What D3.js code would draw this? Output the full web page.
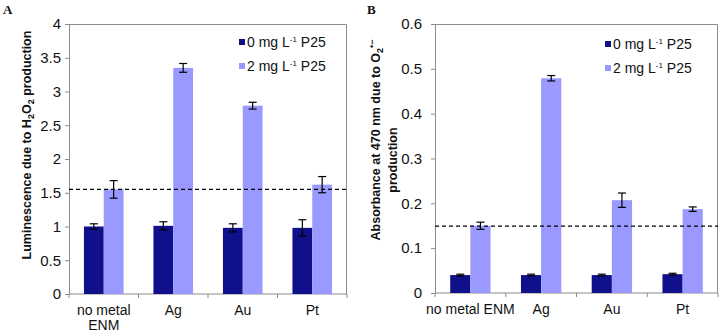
<!DOCTYPE html>
<html>
<head>
<meta charset="utf-8">
<script src="https://cdn.jsdelivr.net/npm/d3@7"></script>
<style>
  body { margin: 0; background: #fff; }
  svg { display: block; font-family: "Liberation Sans", Arial, sans-serif; }
</style>
</head>
<body>
<svg id="chart" width="721" height="333"></svg>
<script>
// categories and series
var categories = ['no metal ENM', 'Ag', 'Au', 'Pt'];
var seriesNames = ['0 mg L-1 P25', '2 mg L-1 P25'];

// panel A: luminescence (H2O2)
var lumDark = [1.00, 1.01, 0.98, 0.98];
var lumDarkErr = [0.04, 0.06, 0.06, 0.12];
var lumLight = [1.55, 3.35, 2.79, 1.62];
var lumLightErr = [0.13, 0.065, 0.05, 0.12];
var lumRef = 1.55;
var lumTicks = [0, 0.5, 1, 1.5, 2, 2.5, 3, 3.5, 4];

// panel B: absorbance (O2 radical)
var absDark = [0.040, 0.040, 0.040, 0.042];
var absDarkErr = [0.002, 0.002, 0.002, 0.002];
var absLight = [0.150, 0.479, 0.207, 0.187];
var absLightErr = [0.008, 0.006, 0.016, 0.005];
var absRef = 0.149;
var absTicks = [0, 0.1, 0.2, 0.3, 0.4, 0.5, 0.6];

var colors = ['#10108a', '#9999ff'];
var axisColor = '#8c8c8c';

var svg = d3.select('#chart');

function drawPanel(o) {
    var g = svg.append('g').attr('transform', 'translate(' + o.left + ',' + o.top + ')'),
        w = o.width,
        h = o.height;

    var x0 = d3.scaleBand().domain(categories).range([0, w]).paddingInner(0.43).paddingOuter(0.215);
    var x1 = d3.scaleBand().domain([0, 1]).range([0, x0.bandwidth()]);
    var y = d3.scaleLinear().domain([0, o.max]).range([h, 0]);

    // frame (top + right)
    g.append('path')
        .attr('d', 'M0,0.5H' + (w - 0.5) + 'V' + h)
        .attr('fill', 'none').attr('stroke', axisColor);

    // y axis
    var yAxis = g.append('g').call(d3.axisLeft(y).tickValues(o.ticks).tickSize(4).tickPadding(o.tickPad)
        .tickFormat(function (d) { return String(+d.toFixed(2)); }));
    yAxis.selectAll('path, line').attr('stroke', axisColor);
    yAxis.selectAll('text').attr('font-size', 15).attr('fill', '#111')
        .attr('font-family', '"Liberation Sans", Arial, sans-serif');

    // x axis: ticks on band boundaries
    var xAxis = g.append('g').attr('transform', 'translate(0,' + h + ')');
    xAxis.append('line').attr('x1', 0).attr('x2', w).attr('stroke', axisColor);
    var bounds = categories.map(function (c) { return x0(c) - x0.step() * x0.paddingInner() / 2; });
    bounds.push(w);
    xAxis.selectAll('line.tk').data(bounds).enter().append('line').attr('class', 'tk')
        .attr('x1', function (d) { return d; }).attr('x2', function (d) { return d; })
        .attr('y1', 0).attr('y2', 4).attr('stroke', axisColor);
    xAxis.selectAll('text').data(categories).enter().append('text')
        .attr('text-anchor', 'middle').attr('font-size', 14).attr('fill', '#111')
        .each(function (d) {
            var t = d3.select(this),
                cx = x0(d) + x0.bandwidth() / 2,
                lines = o.wrap && d === 'no metal ENM' ? ['no metal', 'ENM'] : [d];
            lines.forEach(function (s, k) {
                t.append('tspan').attr('x', cx).attr('y', 21 + k * 15).text(s);
            });
        });

    // bars
    var series = [o.dark, o.light],
        errs = [o.darkErr, o.lightErr];
    series.forEach(function (vals, si) {
        var sg = g.append('g');
        sg.selectAll('rect').data(vals).enter().append('rect')
            .attr('x', function (d, i) { return x0(categories[i]) + x1(si); })
            .attr('y', function (d) { return y(d); })
            .attr('width', x1.bandwidth())
            .attr('height', function (d) { return h - y(d); })
            .attr('fill', colors[si]);
        // error bars
        var eg = sg.selectAll('g.err').data(vals).enter().append('g').attr('class', 'err')
            .attr('stroke', '#000').attr('stroke-width', 1.2);
        eg.each(function (d, i) {
            var e = d3.select(this),
                cx = x0(categories[i]) + x1(si) + x1.bandwidth() / 2,
                lo = y(d - errs[si][i]),
                hi = y(d + errs[si][i]);
            e.append('line').attr('x1', cx).attr('x2', cx).attr('y1', lo).attr('y2', hi);
            e.append('line').attr('x1', cx - 4).attr('x2', cx + 4).attr('y1', lo).attr('y2', lo);
            e.append('line').attr('x1', cx - 4).attr('x2', cx + 4).attr('y1', hi).attr('y2', hi);
        });
    });

    // dashed reference line
    g.append('line').attr('x1', 0).attr('x2', w).attr('y1', y(o.ref)).attr('y2', y(o.ref))
        .attr('stroke', '#000').attr('stroke-width', 1.3).attr('stroke-dasharray', '4,3');

    // legend
    var lg = g.append('g').attr('transform', 'translate(' + o.legendX + ',' + o.legendY + ')');
    seriesNames.forEach(function (s, i) {
        var row = lg.append('g').attr('transform', 'translate(0,' + i * 24 + ')');
        row.append('rect').attr('x', 0).attr('y', -3).attr('width', 6).attr('height', 6).attr('fill', colors[i]);
        var t = row.append('text').attr('x', 8).attr('y', 5).attr('font-size', 14).attr('fill', '#111');
        var parts = s.split('-1');
        t.append('tspan').text(parts[0]);
        t.append('tspan').attr('dy', -5).attr('font-size', 8).text('-1');
        t.append('tspan').attr('dy', 5).text(parts[1]);
    });

    // panel letter
    svg.append('text').attr('x', o.letterX).attr('y', 14)
        .attr('font-family', '"Liberation Serif", "Times New Roman", serif')
        .attr('font-weight', 'bold').attr('font-size', 13).attr('fill', '#111')
        .text(o.letter);

    return g;
}

// panel A
drawPanel({
    left: 69, top: 24, width: 278, height: 270,
    max: 4, ticks: lumTicks, tickPad: 4,
    dark: lumDark, darkErr: lumDarkErr, light: lumLight, lightErr: lumLightErr,
    ref: lumRef, wrap: true,
    legendX: 170, legendY: 18,
    letter: 'A', letterX: 3
});
// y title A
var tA = svg.append('text').attr('transform', 'translate(31,145) rotate(-90)')
    .attr('text-anchor', 'middle').attr('font-weight', 'bold').attr('font-size', 12.5).attr('fill', '#111');
tA.append('tspan').text('Luminescence due to H');
tA.append('tspan').attr('dy', 3).attr('font-size', 9).text('2');
tA.append('tspan').attr('dy', -3).text('O');
tA.append('tspan').attr('dy', 3).attr('font-size', 9).text('2');
tA.append('tspan').attr('dy', -3).text(' production');

// panel B
drawPanel({
    left: 435, top: 24, width: 283, height: 269,
    max: 0.6, ticks: absTicks, tickPad: 9,
    dark: absDark, darkErr: absDarkErr, light: absLight, lightErr: absLightErr,
    ref: absRef, wrap: false,
    legendX: 170, legendY: 20,
    letter: 'B', letterX: 367
});
// y title B (two lines)
var tB = svg.append('text').attr('transform', 'translate(380,140) rotate(-90)')
    .attr('text-anchor', 'middle').attr('font-weight', 'bold').attr('font-size', 12.5).attr('fill', '#111');
tB.append('tspan').text('Absorbance at 470 nm due to O');
tB.append('tspan').attr('dy', 3).attr('font-size', 9).text('2');
tB.append('tspan').attr('dy', -8).attr('font-size', 9).text('\u2022\u2212');
svg.append('text').attr('transform', 'translate(397,160) rotate(-90)')
    .attr('text-anchor', 'middle').attr('font-weight', 'bold').attr('font-size', 12.5).attr('fill', '#111')
    .text('production');
</script>
</body>
</html>
